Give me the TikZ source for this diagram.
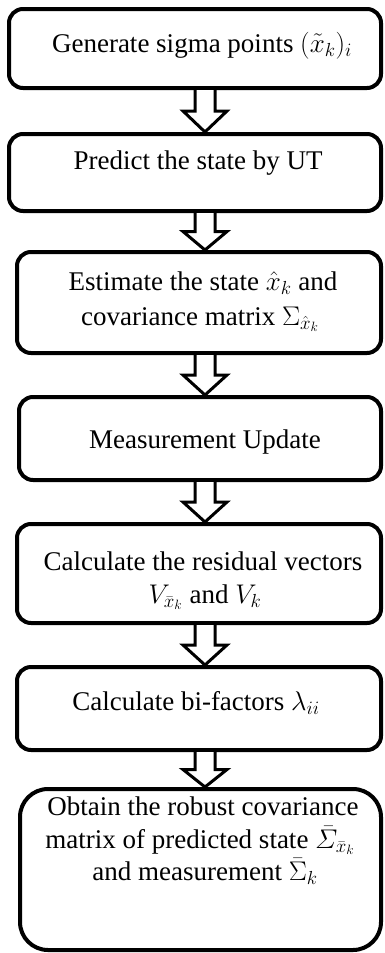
\RequirePackage{fix-cm}
\documentclass[tikz,border=0pt]{standalone}
\usepackage{amsmath}
\usepackage{fontspec}
\setmainfont{Liberation Serif}
\usetikzlibrary{calc}
\begin{document}
\begin{tikzpicture}[x=1pt,y=-1pt]
\tikzset{
  box/.style={draw, line width=4pt, rounded corners=14pt, inner sep=0pt},
  txt/.style={anchor=base, inner sep=0pt, font=\fontsize{27}{33}\selectfont},
  flow/.style={draw, line width=3pt, fill=white,
    to path={let \p1=(\tikztostart), \p2=(\tikztotarget),
      \p3=($(\tikztostart)!0.5!(\tikztotarget)$) in
      (\x1-10pt,\y1) -- (\x1-10pt,\y3) -- (\x1-22pt,\y3) -- (\x2,\y2)
      -- (\x1+22pt,\y3) -- (\x1+10pt,\y3) -- (\x1+10pt,\y1)}}
}
\useasboundingbox (0,0) rectangle (385,953);
\coordinate (ax) at (205,0);
\node[box, minimum width=372pt, minimum height=79pt] (b1) at (195,48.5) {};
\node[box, minimum width=372pt, minimum height=77pt] (b2) at (195,172.5) {};
\node[box, minimum width=364pt, minimum height=101pt] (b3) at (199,302.5) {};
\node[box, minimum width=362pt, minimum height=83pt] (b4) at (200,438.5) {};
\node[box, minimum width=364pt, minimum height=99pt] (b5) at (199,573.5) {};
\node[box, minimum width=364pt, minimum height=83pt] (b6) at (199,708.5) {};
\node[box, minimum width=361pt, minimum height=161pt, rounded corners=28pt] (b7) at (200.5,869.5) {};

\node[txt] (t1) at (202,52) {Generate sigma points $(\tilde{x}_k)_i$};
\node[txt] (t2) at (198,169) {Predict the state by UT};
\node[txt] (t3a) at (203,290) {Estimate the state $\hat{x}_k$ and};
\node[txt] (t3b) at (200,325) {covariance matrix $\Sigma_{\hat{x}_k}$};
\node[txt] (t4) at (205,448) {Measurement Update};
\node[txt] (t5a) at (203,570) {Calculate the residual vectors};
\node[txt] (t5b) at (205,603) {$V_{\bar{x}_k}$ and $V_k$};
\node[txt] (t6) at (196,710) {Calculate bi-factors $\lambda_{ii}$};
\node[txt] (t7a) at (203,815) {Obtain the robust covariance};
\node[txt] (t7b) at (200,848) {matrix of predicted state $\bar{\varSigma}_{\bar{x}_k}$};
\node[txt] (t7c) at (205,880) {and measurement $\bar{\Sigma}_k$};

\draw[flow] (ax |- b1.south) to (ax |- b2.north);
\draw[flow] (ax |- b2.south) to (ax |- b3.north);
\draw[flow] (ax |- b3.south) to (ax |- b4.north);
\draw[flow] (ax |- b4.south) to (ax |- b5.north);
\draw[flow] (ax |- b5.south) to (ax |- b6.north);
\draw[flow] (ax |- b6.south) to (ax |- b7.north);
\end{tikzpicture}
\end{document}
